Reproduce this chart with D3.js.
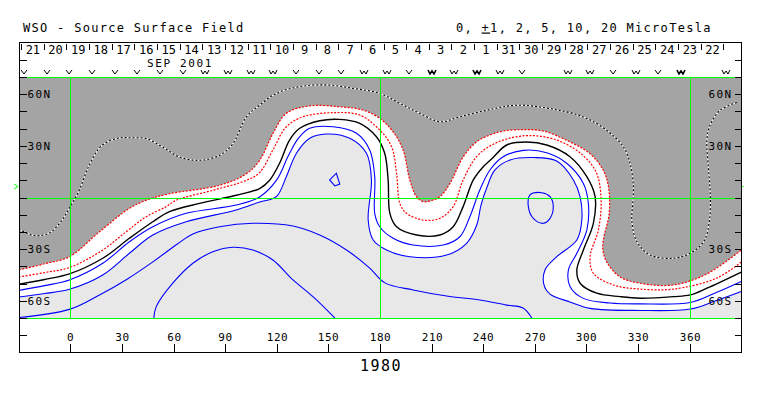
<!DOCTYPE html>
<html>
<head>
<meta charset="utf-8">
<script src="https://cdn.jsdelivr.net/npm/d3@7"></script>
<style>
  body { margin: 0; background: #fff; }
  text { font-family: "DejaVu Sans Mono", monospace; fill: #000; }
</style>
</head>
<body>
<div id="chart"></div>
<script>
// ---- axis values ----
var lonTicks = [0, 30, 60, 90, 120, 150, 180, 210, 240, 270, 300, 330, 360];
var latTicks = [-80, -70, -60, -50, -40, -30, -20, -10, 0, 10, 20, 30, 40, 50, 60, 70, 80];
var latNames = {"60": "60N", "30": "30N", "-30": "30S", "-60": "60S"};
var gridLons = [0, 180, 360];
var gridLats = [70, 0, -70];

// Carrington day labels along the top (Sep 21 back to Aug 22)
var dayLabels = [21, 20, 19, 18, 17, 16, 15, 14, 13, 12, 11, 10, 9, 8, 7, 6, 5, 4, 3, 2, 1, 31, 30, 29, 28, 27, 26, 25, 24, 23, 22];
var firstDayLon = -28.7, degPerDay = 13.17;
// observation markers per day boundary ("" = none, "Wb" = heavy W)
var obsMarks = ["V","V","V","V","V","V","V","V","W","W","W","W","V","V","V","W","W","V","Wb","W","Wb","W","V","","W","W","V","W","V","Wb","","W"];
var b0 = 6.7;   // green mark on the left frame

// ---- contours [longitude, latitude] ----
var neutralLine = [[-30,-50.4],[-15,-47.6],[-0.6,-44.4],[18.8,-35.3],[34.3,-23.7],[47.9,-14.1],[57.6,-8.2],[75.1,-3.4],[96.4,1.3],[110,5.2],[115.8,10],[121.6,19.9],[127.4,33.4],[133.3,40.2],[144.9,44.6],[156.5,45.4],[168.2,43.1],[177.9,35.3],[182.7,25.7],[184.7,10.2],[185.7,-9.2],[189.6,-17],[201.2,-21.8],[214.8,-21.8],[222.5,-17],[228.3,-5.3],[234.2,10.2],[240,17.9],[245.5,23],[253.6,30.5],[265.2,32.2],[276.9,30.5],[290.4,23.7],[300.2,12.1],[305,0.5],[304,-15],[298.2,-30.5],[294.4,-42.1],[296.3,-49.8],[306,-55.6],[319.6,-57.6],[331.2,-58.5],[350.6,-57.6],[360.3,-56.6],[370,-52.7],[390,-43.3]];

var negOne = [[-30,-46.2],[-15,-43.6],[-0.6,-40.7],[18.8,-30.5],[32.4,-19.9],[44,-11.2],[55.7,-5.3],[61.5,-1.6],[82.8,4.2],[102.3,10],[110,14.5],[117.7,27.6],[125.5,41.1],[135.2,46.9],[152.7,49.3],[168.2,47.9],[179.8,39.2],[186.7,29.5],[189.6,14.1],[191.5,-3.4],[195.4,-9.2],[205.1,-13.1],[214.8,-12.1],[222.5,-5.3],[228.3,10.2],[236.1,23.7],[243.9,29.9],[253.6,34],[267.1,36],[282.7,33.4],[296.3,25.9],[305.6,14.8],[308.5,-1.5],[306.9,-18.9],[302.1,-34.4],[304,-44],[315.7,-50.8],[331.2,-53.2],[350.6,-53.2],[375.8,-46.8],[390,-37.5]];

var negTwo = [[-30,-42.1],[-15,-38.5],[-0.6,-34.4],[16.9,-19.9],[34.3,-6.3],[44,-1.6],[57.6,2.2],[86.7,7.1],[102.3,13.8],[110,21.6],[117.8,37.3],[125.5,48.9],[139.1,53.2],[156.6,52.7],[170.1,50.8],[179.8,46],[187.6,38.2],[193.4,27.6],[197.3,10.2],[201.2,0.5],[205.1,-2.4],[209,-2],[214.8,0.5],[220.6,8.2],[228.4,23.7],[236.2,32.4],[243.9,36.3],[251.6,38.6],[263.3,39.4],[274.9,38.6],[288.5,33.2],[302.1,25.4],[309.8,15.8],[312.8,6.1],[313.2,-9.2],[309.8,-24.7],[309.6,-31],[312.1,-38],[319.6,-46.2],[331.2,-49.8],[350.6,-50.8],[370,-44.4],[390,-30.5]];

var posOne = [[-30,-54],[-15,-51.2],[-0.6,-47.9],[18.8,-38.2],[34.3,-25.7],[47.9,-17],[67.3,-9.2],[96.4,-4.4],[110,0.3],[119.9,10.2],[126.9,24.7],[132.7,34.6],[139.1,40.2],[152.7,41.1],[166.3,37.3],[174,27.6],[176.9,12.1],[176.9,-9.2],[179.8,-17],[187.6,-23.7],[199.2,-27.6],[216.7,-27.6],[226.4,-22.8],[232.2,-11.2],[238,4.4],[243.9,16],[251.6,23.7],[263.3,27.4],[276.9,26],[288.5,19.9],[298.2,8.2],[301.1,-3.4],[300.2,-18.9],[294.4,-32.4],[289.5,-42.1],[290.5,-51.8],[298.2,-58.6],[313.7,-61.3],[331.2,-61.8],[360.3,-61],[374.8,-55.5],[390,-48.8]];

var posTwo = [[-30,-57.8],[-15,-55.8],[-0.6,-53.3],[18.8,-45],[34.3,-32.4],[47.9,-21.8],[67.3,-14.1],[96.4,-7.3],[110,-2.6],[119.7,0.5],[125.5,12.1],[131.4,25.7],[139.1,34.4],[148.8,36.9],[162.4,34.4],[172.1,25.7],[175,10.2],[173.1,-13.1],[176,-24.7],[183.8,-30.5],[197.3,-34.4],[218.7,-33.4],[230.3,-26.6],[236.2,-16],[238.7,-4.4],[242.2,6.1],[246.8,16],[255.6,21.8],[269.1,23.2],[282.7,21.2],[292.4,10.2],[296.3,0.3],[297.3,-13.1],[294.4,-24.7],[282.7,-34.4],[275.9,-42.1],[275.3,-50.8],[278.8,-56.1],[290.4,-60.7],[302.1,-64.4],[331.2,-65.6],[360.3,-64.8],[374.8,-60.1],[390,-54.6]];

var posFive = [[-30,-69.7],[-0.6,-65],[16.9,-56.6],[33.2,-47.3],[47.1,-38],[62.2,-27],[71.2,-21.2],[86.7,-17],[106.1,-15],[129.4,-16.6],[144.9,-21.8],[160.5,-30.5],[174,-41],[182.8,-49.6],[199.2,-53.7],[218.7,-57.2],[238,-59.5],[253.6,-62.5],[263.1,-64.2],[268.2,-70]];

var posTen = [[48.5,-70],[49.9,-63.4],[59.5,-49.8],[71.2,-38.2],[82.8,-31.5],[94.5,-28.9],[106.1,-30.5],[117.7,-36.3],[129.4,-47.9],[141,-57.6],[153.7,-70]];

var posLoopA = [[150.7,10.2],[154.6,14.1],[156.6,7.8],[153.7,6.7]];
var posLoopB = [[267.2,1.5],[274,2.8],[278.8,0.5],[280.7,-5.3],[278.8,-12.1],[274.9,-15],[269.1,-12.1],[266.2,-5.3]];

var negFive = [[-30,-18.3],[-21,-22.1],[-12.2,-20.6],[-5.3,-13.7],[-0.6,-6.1],[5.2,4.4],[11,18.9],[18.6,30.5],[28.5,34.6],[34.3,34.7],[44,34.2],[53.7,29.3],[63.4,23.5],[75.1,21.6],[86.7,24.5],[94.5,31.3],[102.3,46.8],[110,53.6],[119.7,60.5],[133.3,64.4],[148.8,65.4],[164.3,63.4],[179.8,60.5],[191.5,54.7],[203.1,48.9],[214.8,44],[226.4,46.9],[243.9,51.1],[259.4,53.6],[278.8,51.6],[298.2,46.8],[311.8,39],[321.5,29.3],[325.4,19.6],[327.3,6.1],[326.8,-4.4],[326.4,-14.1],[329.3,-25.7],[337,-33.4],[350.6,-35.3],[360.3,-32.4],[368.1,-25.7],[371.4,-14.1],[372,0.3],[371,15.9],[370,33.4],[371.9,42.1],[377.8,50.8],[387.5,55.2]];

// ---- layout ----
var width = 763, height = 396;

var x = d3.scaleLinear().domain([-30, 390]).range([18.8, 741.3]);
var y = d3.scaleLinear().domain([70, -70]).range([77, 318]);
var xr = x.copy().interpolate(d3.interpolateRound);
var yr = y.copy().interpolate(d3.interpolateRound);

var frameL = Math.round(x(-30)) + 0.5, frameR = Math.round(x(390)) + 0.5;
var frameT = Math.round(y(90)) - 0.5, frameB = Math.round(y(-90)) + 0.5;

var svg = d3.select("#chart").append("svg")
    .attr("width", width)
    .attr("height", height);

svg.append("defs").append("clipPath").attr("id", "plot")
  .append("rect")
    .attr("x", frameL).attr("y", y(70))
    .attr("width", frameR - frameL).attr("height", y(-70) - y(70));

var line = d3.line()
    .x(d => x(d[0]))
    .y(d => y(d[1]))
    .curve(d3.curveCatmullRom.alpha(0.5));

var plot = svg.append("g").attr("clip-path", "url(#plot)");

// background + polarity shading
plot.append("rect")
    .attr("x", frameL).attr("y", y(70))
    .attr("width", frameR - frameL).attr("height", y(-70) - y(70))
    .attr("fill", "#fff");

plot.append("path")
    .attr("d", line(negTwo) + `L${x(390)},${y(70) - 2}L${x(-30)},${y(70) - 2}Z`)
    .attr("fill", "#a4a4a4");

plot.append("path")
    .attr("d", line(posTwo) + `L${x(390)},${y(-70) + 2}L${x(-30)},${y(-70) + 2}Z`)
    .attr("fill", "#e8e8e8");

// contour lines
[posOne, posTwo, posFive, posTen].forEach(function(c) {
  plot.append("path").attr("d", line(c))
      .attr("fill", "none").attr("stroke", "#0000ff").attr("stroke-width", 1.1);
});

plot.append("path")
    .attr("d", d3.line().x(d => x(d[0])).y(d => y(d[1])).curve(d3.curveLinearClosed)(posLoopA))
    .attr("fill", "none").attr("stroke", "#0000ff").attr("stroke-width", 1.1);
plot.append("path")
    .attr("d", d3.line().x(d => x(d[0])).y(d => y(d[1])).curve(d3.curveCatmullRomClosed)(posLoopB))
    .attr("fill", "none").attr("stroke", "#0000ff").attr("stroke-width", 1.1);

[negOne, negTwo].forEach(function(c) {
  plot.append("path").attr("d", line(c))
      .attr("fill", "none").attr("stroke", "#ff0000").attr("stroke-width", 1.2)
      .attr("stroke-dasharray", "2,1.5");
});

plot.append("path").attr("d", line(neutralLine))
    .attr("fill", "none").attr("stroke", "#000").attr("stroke-width", 1.4);

plot.append("path").attr("d", line(negFive))
    .attr("fill", "none").attr("stroke", "#fff").attr("stroke-width", 1.1);
plot.append("path").attr("d", line(negFive))
    .attr("fill", "none").attr("stroke", "#000").attr("stroke-width", 1.1)
    .attr("stroke-dasharray", "2,2");

// green grid
var grid = svg.append("g").attr("stroke", "#00ff00").attr("stroke-width", 1)
    .attr("shape-rendering", "crispEdges");
grid.selectAll("line.v").data(gridLons).join("line")
    .attr("x1", d => xr(d) + 0.5).attr("x2", d => xr(d) + 0.5)
    .attr("y1", yr(70)).attr("y2", yr(-70));
grid.selectAll("line.h").data(gridLats).join("line")
    .attr("x1", frameL).attr("x2", frameR)
    .attr("y1", d => yr(d) + 0.5).attr("y2", d => yr(d) + 0.5);

// B0 mark
svg.append("path")
    .attr("d", `M14,${yr(b0) - 2}L18,${yr(b0) + 0.5}L14,${yr(b0) + 3}`)
    .attr("fill", "none").attr("stroke", "#00ff00");
svg.append("line")
    .attr("x1", frameR).attr("x2", frameR + 2)
    .attr("y1", yr(b0) + 0.5).attr("y2", yr(b0) + 0.5)
    .attr("stroke", "#00ff00");

// frame
svg.append("rect")
    .attr("x", frameL).attr("y", frameT)
    .attr("width", frameR - frameL).attr("height", frameB - frameT)
    .attr("fill", "none").attr("stroke", "#000")
    .attr("shape-rendering", "crispEdges");

// axes
function styleAxis(g, size, spacing) {
  g.select(".domain").remove();
  g.selectAll(".tick line").attr("stroke", "#000").attr("shape-rendering", "crispEdges");
  g.selectAll("text")
      .attr("font-family", "DejaVu Sans Mono")
      .attr("font-size", size)
      .attr("letter-spacing", spacing)
      .attr("fill", "#000");
}

svg.append("g")
    .attr("transform", `translate(0,${frameB - 0.5})`)
    .call(d3.axisTop(xr).tickValues(lonTicks).tickSize(8).tickPadding(3))
    .call(g => styleAxis(g, 11, 0.6));

svg.append("g")
    .attr("transform", `translate(${frameL},0)`)
    .call(d3.axisRight(yr).tickValues(latTicks).tickSize(7).tickPadding(1)
          .tickFormat(d => latNames[d] || ""))
    .call(g => styleAxis(g, 11, 1.4));

svg.append("g")
    .attr("transform", `translate(${frameR},0)`)
    .call(d3.axisLeft(yr).tickValues(latTicks).tickSize(7).tickPadding(2)
          .tickFormat(d => latNames[d] || ""))
    .call(g => styleAxis(g, 11, 1.4));

// day boundaries, labels and observation marks across the top
var dayEdges = d3.range(dayLabels.length + 1).map(k => firstDayLon + k * degPerDay);

svg.append("g").selectAll("line")
    .data(dayEdges).join("line")
    .attr("x1", d => xr(d) + 0.5).attr("x2", d => xr(d) + 0.5)
    .attr("y1", frameT + 1).attr("y2", frameT + 7)
    .attr("stroke", "#000").attr("shape-rendering", "crispEdges");

svg.append("g").selectAll("text")
    .data(dayLabels).join("text")
    .attr("x", (d, i) => (x(dayEdges[i]) + x(dayEdges[i + 1])) / 2 + 0.5)
    .attr("y", frameT + 11.5)
    .attr("text-anchor", "middle")
    .attr("font-size", 12)
    .text(d => d);

svg.append("g").selectAll("path")
    .data(obsMarks.map((m, i) => ({m: m, lon: dayEdges[i]})).filter(d => d.m))
    .join("path")
    .attr("d", function(d) {
      var cx = xr(d.lon) + 3, cy = 72;
      if (d.m === "V") return `M${cx - 3},${cy - 2}L${cx},${cy + 2}L${cx + 3},${cy - 2}`;
      return `M${cx - 4},${cy - 2}L${cx - 2},${cy + 2}L${cx},${cy - 1}L${cx + 2},${cy + 2}L${cx + 4},${cy - 2}`;
    })
    .attr("fill", "none").attr("stroke", "#000")
    .attr("stroke-width", d => d.m === "Wb" ? 1.6 : 1);

// titles
svg.append("text")
    .attr("x", 23).attr("y", 31.5)
    .attr("font-size", 12).attr("letter-spacing", 1.3)
    .text("WSO - Source Surface Field");

var units = svg.append("text")
    .attr("x", 456).attr("y", 31.5)
    .attr("font-size", 12).attr("letter-spacing", 1.3);
units.append("tspan").text("0, ");
units.append("tspan").attr("text-decoration", "underline").text("+");
units.append("tspan").text("1, 2, 5, 10, 20 MicroTesla");

svg.append("text")
    .attr("x", 180).attr("y", 66.5)
    .attr("text-anchor", "middle")
    .attr("font-size", 11).attr("letter-spacing", 1.6)
    .text("SEP 2001");

svg.append("text")
    .attr("x", 381).attr("y", 371)
    .attr("text-anchor", "middle")
    .attr("font-size", 15).attr("letter-spacing", 1.5)
    .text("1980");
</script>
</body>
</html>
